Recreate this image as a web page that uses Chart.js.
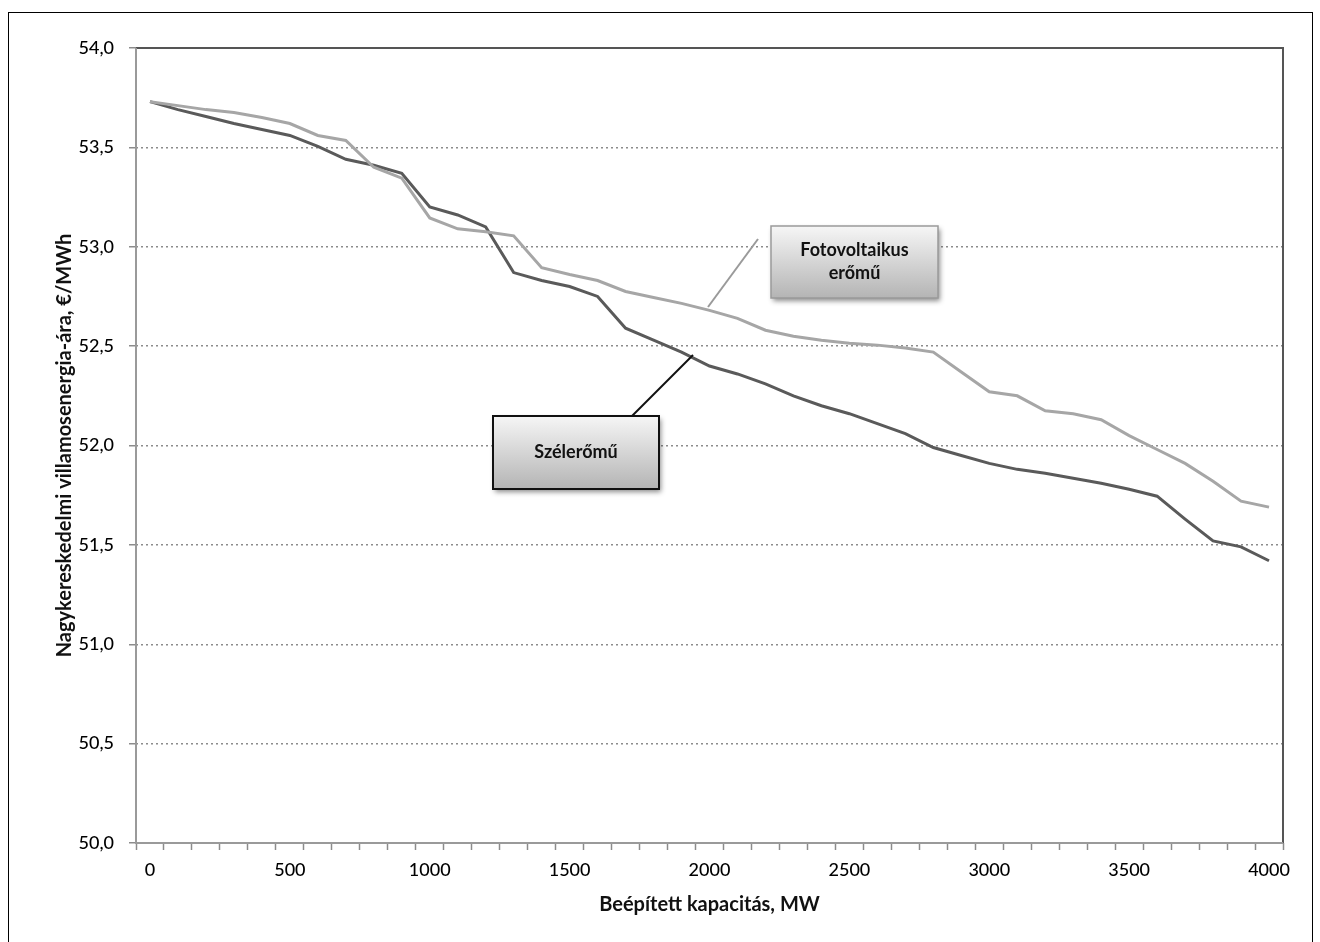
<!DOCTYPE html>
<html>
<head>
<meta charset="utf-8">
<script src="https://cdn.jsdelivr.net/npm/chart.js@4.4.0/dist/chart.umd.min.js"></script>
<style>
  body { margin: 0; background: #fff; }
  canvas { display: block; }
</style>
</head>
<body>
<canvas id="arGorbe" width="1320" height="942"></canvas>
<script>
// beépített kapacitás, MW (kategóriák)
const kapacitas = [0, 100, 200, 300, 400, 500, 600, 700, 800, 900,
  1000, 1100, 1200, 1300, 1400, 1500, 1600, 1700, 1800, 1900,
  2000, 2100, 2200, 2300, 2400, 2500, 2600, 2700, 2800, 2900,
  3000, 3100, 3200, 3300, 3400, 3500, 3600, 3700, 3800, 3900, 4000];

// nagykereskedelmi ár, €/MWh
const szeleromu = [53.73, 53.69, 53.655, 53.62, 53.59, 53.56, 53.505, 53.44, 53.41, 53.37,
  53.20, 53.16, 53.10, 52.87, 52.83, 52.80, 52.75, 52.59, 52.53, 52.47,
  52.40, 52.36, 52.31, 52.25, 52.20, 52.16, 52.11, 52.06, 51.99, 51.95,
  51.91, 51.88, 51.86, 51.835, 51.81, 51.78, 51.745, 51.63, 51.52, 51.49, 51.42];

const fotovoltaikus = [53.73, 53.71, 53.69, 53.675, 53.65, 53.62, 53.56, 53.535, 53.40, 53.345,
  53.145, 53.09, 53.075, 53.055, 52.895, 52.86, 52.83, 52.775, 52.745, 52.715,
  52.68, 52.64, 52.58, 52.55, 52.53, 52.515, 52.505, 52.49, 52.47, 52.37,
  52.27, 52.25, 52.175, 52.16, 52.13, 52.05, 51.98, 51.91, 51.82, 51.72, 51.69];

const xFelirat = ['0', '500', '1000', '1500', '2000', '2500', '3000', '3500', '4000'];

const tickFont = { family: 'Lato', size: 18, weight: '500' };
const titleFont = { family: 'Lato', size: 20, weight: 'bold' };
const gridSzin = '#8c8c8c';

function callout(ctx, x, y, w, h, sorok, keret, keretVastag) {
  ctx.save();
  ctx.shadowColor = 'rgba(0,0,0,0.45)';
  ctx.shadowBlur = 5;
  ctx.shadowOffsetX = 2;
  ctx.shadowOffsetY = 3;
  const g = ctx.createLinearGradient(0, y, 0, y + h);
  g.addColorStop(0, '#f6f6f6');
  g.addColorStop(1, '#b4b4b4');
  ctx.fillStyle = g;
  ctx.fillRect(x, y, w, h);
  ctx.restore();
  ctx.save();
  ctx.strokeStyle = keret;
  ctx.lineWidth = keretVastag;
  ctx.strokeRect(x, y, w, h);
  ctx.fillStyle = '#111';
  ctx.font = 'bold 18px Lato';
  ctx.textAlign = 'center';
  ctx.textBaseline = 'middle';
  const lh = 23;
  const y0 = y + h / 2 - (sorok.length - 1) * lh / 2;
  sorok.forEach((s, i) => ctx.fillText(s, x + w / 2, y0 + i * lh));
  ctx.restore();
}

const keretPlugin = {
  id: 'keret',
  beforeDraw(chart) {
    const ctx = chart.ctx;
    ctx.save();
    ctx.fillStyle = '#fff';
    ctx.fillRect(0, 0, chart.width, chart.height);
    ctx.strokeStyle = '#000';
    ctx.lineWidth = 1;
    ctx.strokeRect(8.5, 12.5, 1304, 940);
    ctx.restore();
  },
  beforeDatasetsDraw(chart) {
    const { ctx, chartArea: a } = chart;
    ctx.save();
    ctx.lineWidth = 2;
    ctx.strokeStyle = '#555';
    ctx.beginPath();
    ctx.moveTo(a.left, a.top); ctx.lineTo(a.right, a.top); ctx.lineTo(a.right, a.bottom);
    ctx.stroke();
    ctx.strokeStyle = '#9a9a9a';
    ctx.beginPath();
    ctx.moveTo(a.left, a.top); ctx.lineTo(a.left, a.bottom); ctx.lineTo(a.right, a.bottom);
    ctx.stroke();
    ctx.restore();
  },
  afterDraw(chart) {
    const { ctx, chartArea: a } = chart;
    // mutatóvonalak a feliratokhoz
    ctx.save();
    ctx.lineWidth = 2;
    ctx.strokeStyle = '#9a9a9a';
    ctx.beginPath();
    ctx.moveTo(a.left + 622, a.top + 191);
    ctx.lineTo(a.left + 572, a.top + 259);
    ctx.stroke();
    ctx.strokeStyle = '#111';
    ctx.beginPath();
    ctx.moveTo(a.left + 496, a.top + 368);
    ctx.lineTo(a.left + 557, a.top + 307);
    ctx.stroke();
    ctx.restore();
    callout(ctx, a.left + 635, a.top + 178, 167, 72, ['Fotovoltaikus', 'erőmű'], '#9a9a9a', 1.5);
    callout(ctx, a.left + 357, a.top + 368, 166, 73, ['Szélerőmű'], '#111', 2);
  }
};

const config = {
  type: 'line',
  data: {
    labels: kapacitas,
    datasets: [
      {
        label: 'Fotovoltaikus erőmű',
        data: fotovoltaikus,
        borderColor: '#a6a6a6',
        borderWidth: 3,
        pointRadius: 0,
        tension: 0
      },
      {
        label: 'Szélerőmű',
        data: szeleromu,
        borderColor: '#5a5a5a',
        borderWidth: 3,
        pointRadius: 0,
        tension: 0
      }
    ]
  },
  options: {
    responsive: false,
    animation: false,
    devicePixelRatio: 1,
    layout: { padding: { left: 0, top: 48, right: 37, bottom: 0 } },
    plugins: {
      legend: { display: false },
      tooltip: { enabled: false }
    },
    scales: {
      x: {
        type: 'category',
        offset: true,
        grid: {
          offset: true,
          drawOnChartArea: false,
          drawTicks: true,
          tickLength: 7,
          tickColor: gridSzin,
          tickWidth: 1.5
        },
        border: { display: false },
        ticks: {
          autoSkip: false,
          maxRotation: 0,
          padding: 9,
          color: '#000',
          font: tickFont,
          callback: (v, i) => xFelirat.includes(String(kapacitas[i])) ? String(kapacitas[i]) : ''
        },
        title: {
          display: true,
          text: 'Beépített kapacitás, MW',
          color: '#111',
          font: titleFont,
          padding: { bottom: 25 }
        },
        afterFit: s => { s.height = 99; }
      },
      y: {
        min: 50,
        max: 54,
        grid: {
          color: c => (c.tick && (c.tick.value === 50 || c.tick.value === 54)) ? 'rgba(0,0,0,0)' : gridSzin,
          lineWidth: 1.5,
          tickColor: gridSzin,
          tickLength: 7,
          tickWidth: 1.5,
          tickBorderDash: []
        },
        border: { display: false, dash: [2, 3] },
        ticks: {
          stepSize: 0.5,
          padding: 15,
          color: '#000',
          font: tickFont,
          callback: v => v.toFixed(1).replace('.', ',')
        },
        title: {
          display: true,
          text: 'Nagykereskedelmi villamosenergia-ára, €/MWh',
          color: '#111',
          font: titleFont,
          padding: { top: 53 }
        },
        afterFit: s => { s.width = 136; }
      }
    }
  },
  plugins: [keretPlugin]
};

new Chart(document.getElementById('arGorbe'), config);
</script>
</body>
</html>
